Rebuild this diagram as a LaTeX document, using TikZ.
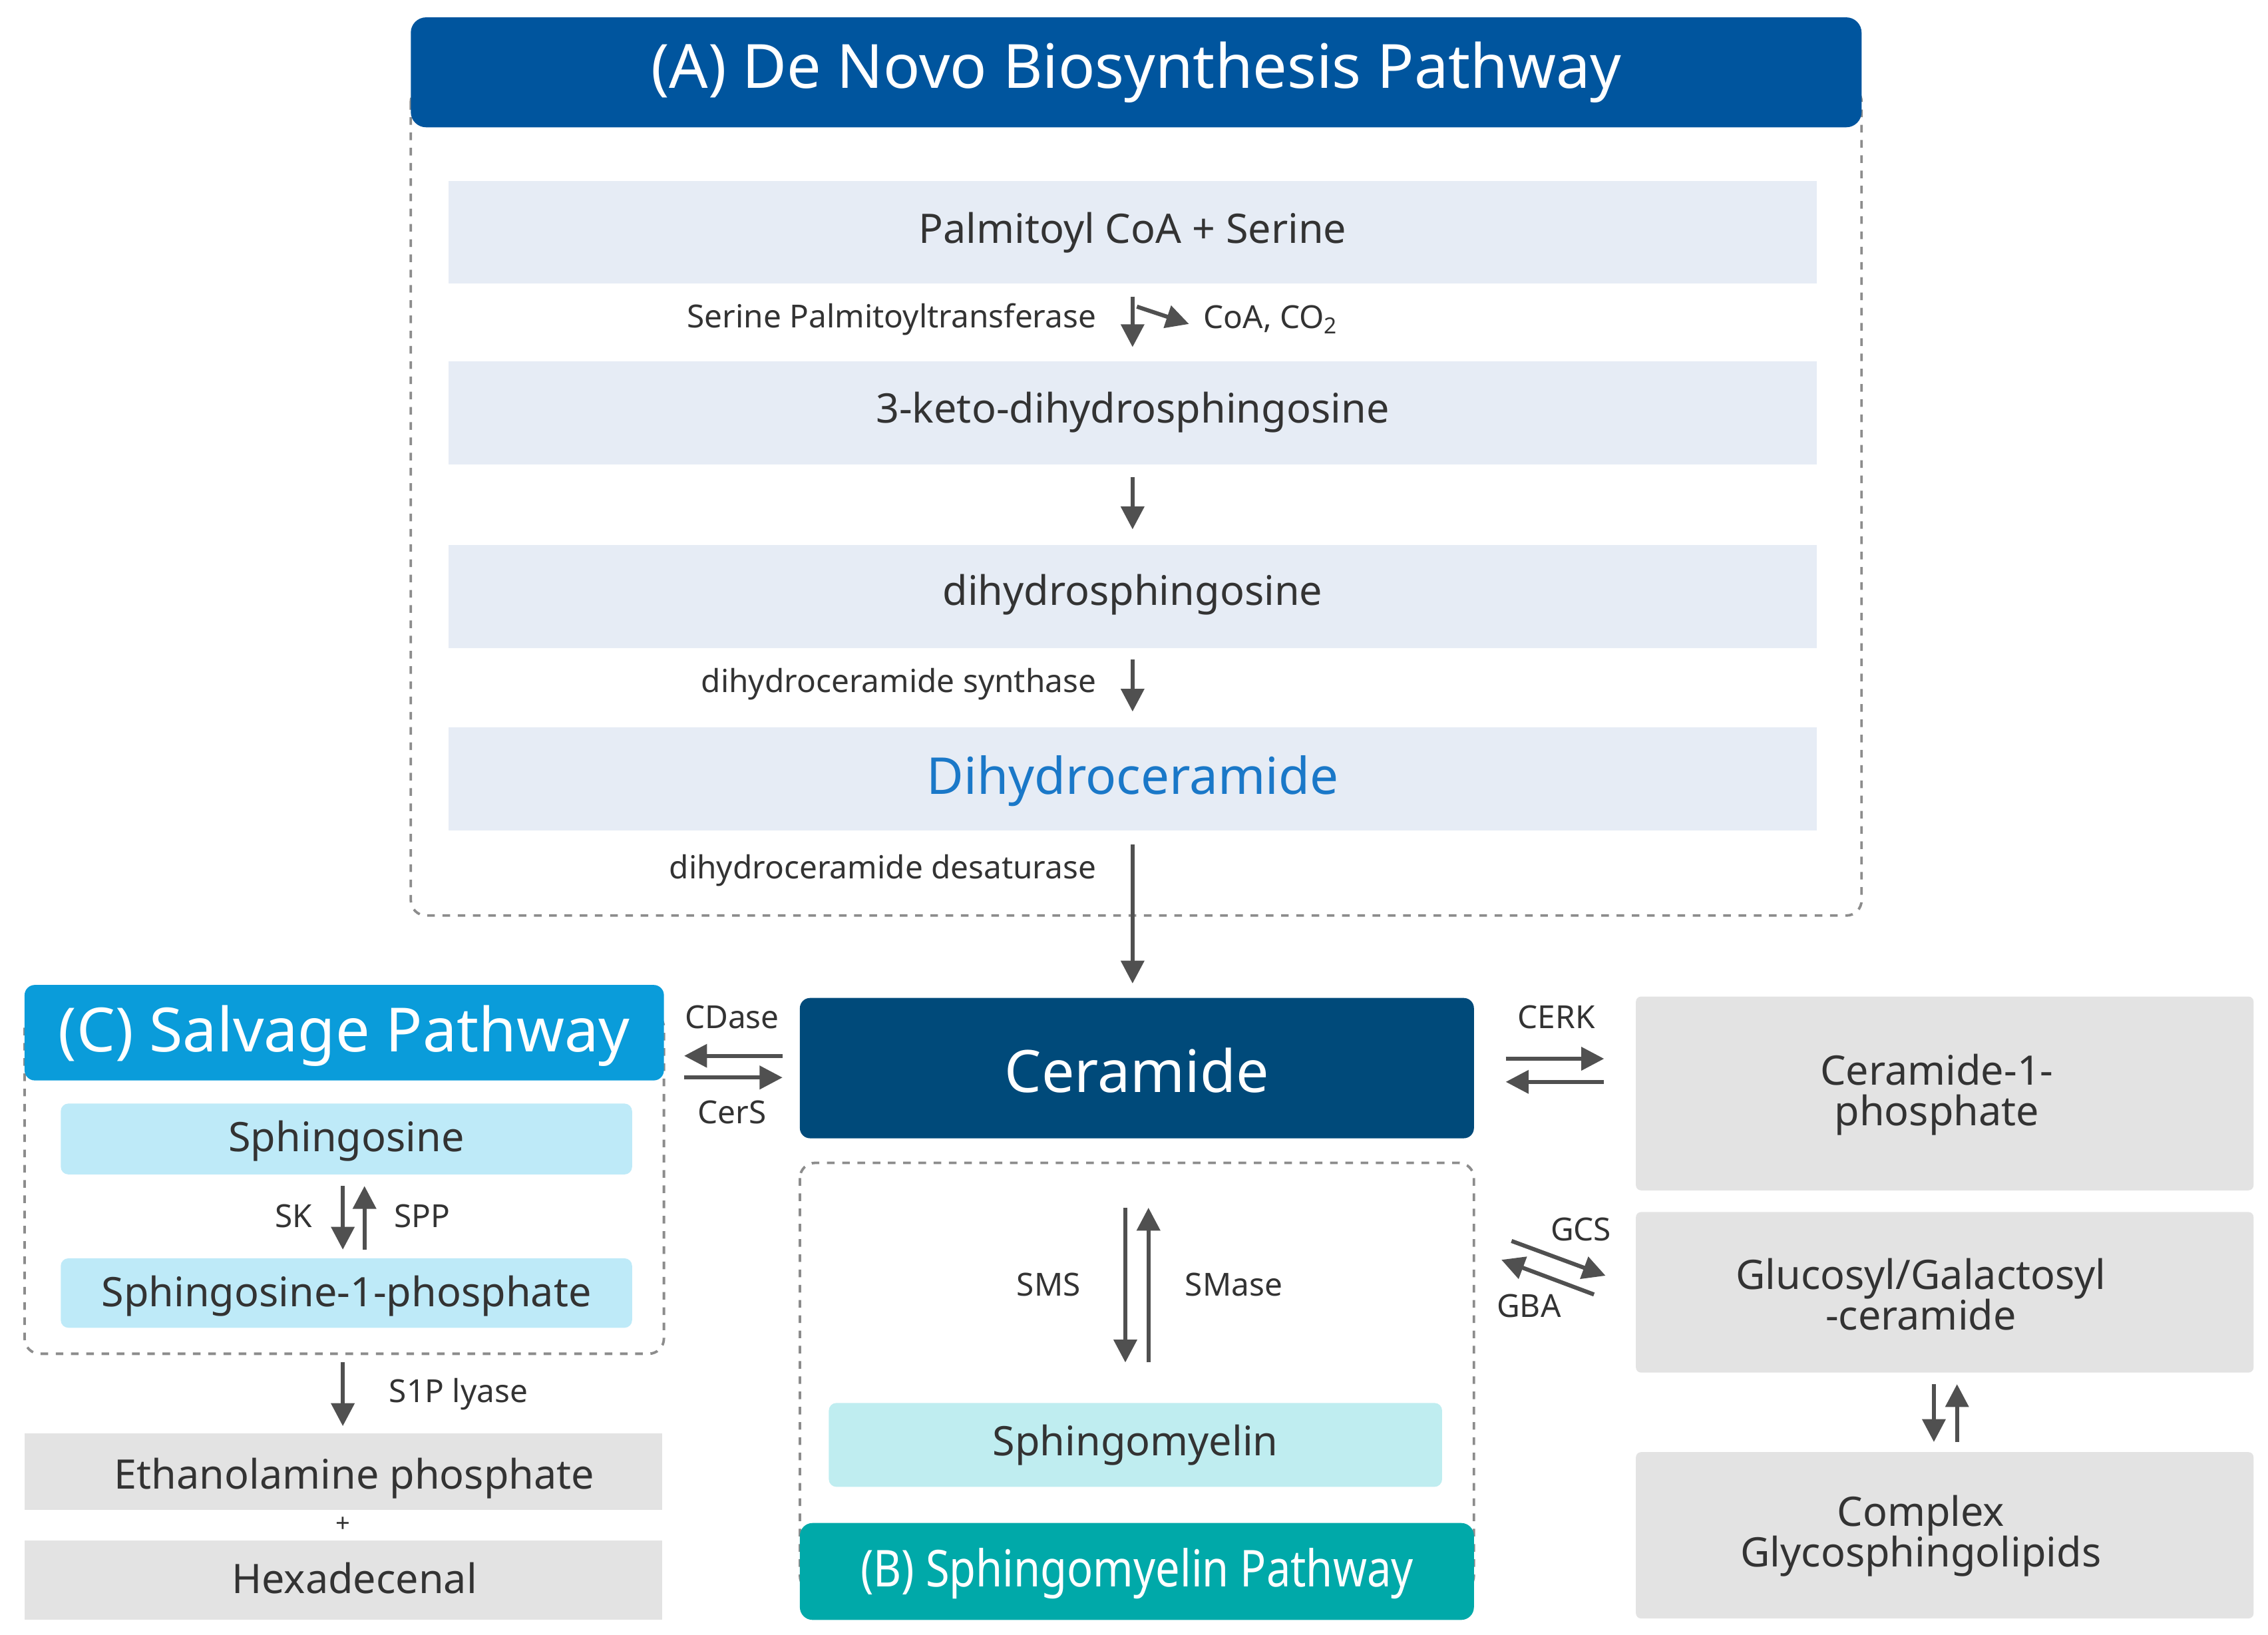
\documentclass[tikz,border=0pt]{standalone}
\usepackage{fontspec}
\setmainfont{Noto Sans}
\usetikzlibrary{arrows.meta}
\definecolor{hdA}{HTML}{00559E}
\definecolor{rowA}{HTML}{E6ECF5}
\definecolor{cer}{HTML}{004A7A}
\definecolor{hdC}{HTML}{0A9CDA}
\definecolor{cyanbox}{HTML}{BEEAF8}
\definecolor{graybox}{HTML}{E3E3E3}
\definecolor{smbox}{HTML}{BFEDF0}
\definecolor{hdB}{HTML}{00A9A9}
\definecolor{txt}{HTML}{333333}
\definecolor{arr}{HTML}{505050}
\definecolor{dblue}{HTML}{1A78C8}
\begin{document}
\begin{tikzpicture}[x=0.02cm,y=-0.02cm,
 fs/.style={font=\fontsize{#1}{#1}\selectfont\bfseries},
 box/.style={draw=none,inner sep=0,text=txt,align=center},
 lab/.style={text=txt,fs=12.5,inner sep=1pt},
 ar/.style={arr,line width=1.6pt,-{Triangle[length=9pt,width=9pt]}},
 dbox/.style={draw=gray!90,dashed,line width=1pt,rounded corners=6pt}]
\useasboundingbox (0,0) rectangle (1568,1130);
% A
\draw[dbox] (284,60) rectangle (1287,633);
\fill[hdA,rounded corners=6pt] (284,12) rectangle (1287,88);
\node[text=white,fs=24] (tA) at (785.5,50) {(A) De Novo Biosynthesis Pathway};
\foreach \a/\b in {125/196,250/321,377/448,503/574}
  \fill[rowA] (310,\a) rectangle (1256,\b);
\node[box,fs=16] (pal) at (783,161) {Palmitoyl CoA + Serine};
\node[box,fs=16] (keto) at (783,285) {3-keto-dihydrosphingosine};
\node[box,fs=16] (dhs) at (783,411) {dihydrosphingosine};
\node[box,fs=20,text=dblue] (dhc) at (783,540) {Dihydroceramide};
\coordinate (a1s) at (783,205); \coordinate (a1e) at (783,240);
\draw[ar] (a1s) -- (a1e);
\coordinate (b1) at (786,212); \coordinate (b2) at (822,224);
\draw[ar] (b1) -- (b2);
\node[lab,anchor=east] (spt) at (760,221) {Serine Palmitoyltransferase};
\node[lab,anchor=west] (coa) at (830,221) {CoA, CO\textsubscript{2}};
\coordinate (a2s) at (783,330); \coordinate (a2e) at (783,366);
\draw[ar] (a2s) -- (a2e);
\coordinate (a3s) at (783,456); \coordinate (a3e) at (783,492);
\draw[ar] (a3s) -- (a3e);
\node[lab,anchor=east] (dcs) at (760,473) {dihydroceramide synthase};
\node[lab,anchor=east] (dcd) at (760,602) {dihydroceramide desaturase};
% Ceramide
\fill[cer,rounded corners=4pt] (553,690) rectangle (1019,787);
\node[text=white,fs=23] (cerm) at (786,740) {Ceramide};
\coordinate (a4s) at (783,584); \coordinate (a4e) at (783,680);
\draw[ar] (a4s) -- (a4e);
% C
\draw[dbox] (17,700) rectangle (459,936);
\fill[hdC,rounded corners=4pt] (17,681) rectangle (459,747);
\node[text=white,fs=24] (tC) at (238,716) {(C) Salvage Pathway};
\fill[cyanbox,rounded corners=3pt] (42,763) rectangle (437,812);
\node[box,fs=16] (sph) at (239.5,789) {Sphingosine};
\fill[cyanbox,rounded corners=3pt] (42,870) rectangle (437,918);
\node[box,fs=16] (s1p) at (239.5,896) {Sphingosine-1-phosphate};
\coordinate (sk1) at (237,820); \coordinate (sk2) at (237,864);
\draw[ar] (sk1) -- (sk2);
\coordinate (sp1) at (252,864); \coordinate (sp2) at (252,820);
\draw[ar] (sp1) -- (sp2);
\node[lab] (sk) at (203,841) {SK};
\node[lab] (spp) at (292,841) {SPP};
\coordinate (ly1) at (237,942); \coordinate (ly2) at (237,986);
\draw[ar] (ly1) -- (ly2);
\node[lab] (lyase) at (317,964) {S1P lyase};
\fill[graybox] (17,991) rectangle (458,1044);
\node[box,fs=16] (eth) at (245,1022) {Ethanolamine phosphate};
\node[lab,fs=10] (plus) at (237,1054) {+};
\fill[graybox] (17,1065) rectangle (458,1120);
\node[box,fs=16] (hex) at (245,1091) {Hexadecenal};
% CDase / CerS
\coordinate (c1) at (541,730); \coordinate (c2) at (473,730);
\draw[ar] (c1) -- (c2);
\coordinate (c3) at (473,745); \coordinate (c4) at (541,745);
\draw[ar] (c3) -- (c4);
\node[lab] (cdase) at (506,703) {CDase};
\node[lab] (cers) at (506,769) {CerS};
% CERK
\coordinate (k1) at (1041,732); \coordinate (k2) at (1109,732);
\draw[ar] (k1) -- (k2);
\coordinate (k3) at (1109,748); \coordinate (k4) at (1041,748);
\draw[ar] (k3) -- (k4);
\node[lab] (cerk) at (1076,703) {CERK};
% right boxes
\fill[graybox,rounded corners=2pt] (1131,689) rectangle (1558,823);
\node[box,fs=16] (c1p) at (1339,757) {Ceramide-1-\\phosphate};
\fill[graybox,rounded corners=2pt] (1131,838) rectangle (1558,949);
\node[box,fs=16] (glc) at (1328,895) {Glucosyl/Galactosyl\\-ceramide};
\fill[graybox,rounded corners=2pt] (1131,1004) rectangle (1558,1119);
\node[box,fs=16] (cgl) at (1328,1062) {Complex\\Glycosphingolipids};
\coordinate (g1) at (1045,858); \coordinate (g2) at (1110,882);
\draw[ar] (g1) -- (g2);
\coordinate (g3) at (1102,895); \coordinate (g4) at (1038,871);
\draw[ar] (g3) -- (g4);
\node[lab] (gcs) at (1093,850) {GCS};
\node[lab] (gba) at (1057,903) {GBA};
\coordinate (v1) at (1337,957); \coordinate (v2) at (1337,997);
\draw[ar] (v1) -- (v2);
\coordinate (v3) at (1353,997); \coordinate (v4) at (1353,957);
\draw[ar] (v3) -- (v4);
% B
\draw[dbox] (553,804) rectangle (1019,1100);
\coordinate (m1) at (778,835); \coordinate (m2) at (778,942);
\draw[ar] (m1) -- (m2);
\coordinate (m3) at (794,942); \coordinate (m4) at (794,835);
\draw[ar] (m3) -- (m4);
\node[lab] (sms) at (725,888) {SMS};
\node[lab] (smase) at (853,888) {SMase};
\fill[smbox,rounded corners=3pt] (573,970) rectangle (997,1028);
\node[box,fs=16] (sm) at (785,999) {Sphingomyelin};
\fill[hdB,rounded corners=5pt] (553,1053) rectangle (1019,1120);
\node[text=white,fs=20] (tB) at (786,1088) {\addfontfeature{FakeStretch=0.85}(B) Sphingomyelin Pathway};
\end{tikzpicture}
\end{document}
